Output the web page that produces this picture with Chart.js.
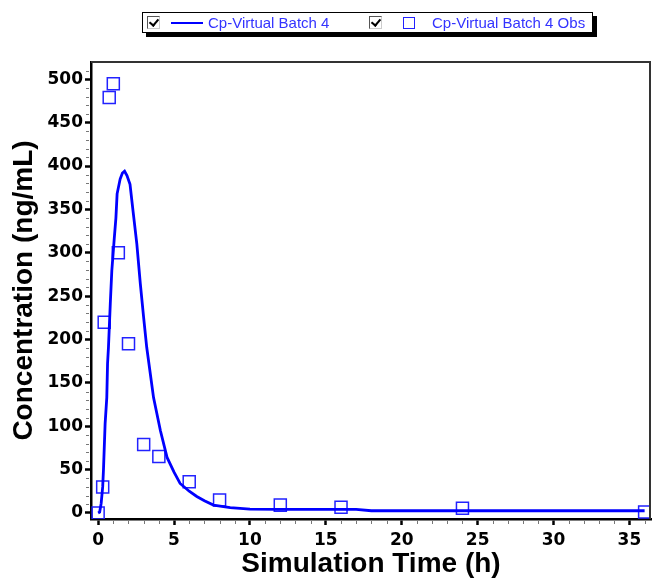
<!DOCTYPE html>
<html>
<head>
<meta charset="utf-8">
<script src="https://cdn.jsdelivr.net/npm/chart.js@4.4.0/dist/chart.umd.min.js"></script>
<style>
  html, body { margin: 0; padding: 0; background: #fff; }
  #wrap { position: relative; width: 652px; height: 578px; }
  #legend {
    position: absolute; left: 142px; top: 12px; width: 449px; height: 19px;
    border: 1px solid #000; background: #fff; box-shadow: 4px 4px 0 #000;
    font-family: "Liberation Sans", Arial, sans-serif; font-size: 15px; color: #3333ff;
  }
  #legend .cb {
    position: absolute; top: 3px; width: 13px; height: 13px; box-sizing: border-box;
    border: 1px solid #555; border-right-color: #ccc; border-bottom-color: #ccc; background: #fff;
  }
  #legend .cb::after {
    content: ""; position: absolute; left: 3px; top: 0px; width: 4px; height: 7px;
    border-right: 2px solid #000; border-bottom: 2px solid #000; transform: rotate(40deg);
  }
  #legend .ln { position: absolute; left: 28px; top: 9px; width: 32px; height: 2px; background: #0000ff; }
  #legend .sq { position: absolute; left: 260px; top: 4px; width: 12px; height: 12px; box-sizing: border-box; border: 1.5px solid #2222ff; }
  #legend .tx { position: absolute; top: 0; line-height: 19px; white-space: nowrap; }
</style>
</head>
<body>
<div id="wrap">
  <canvas id="graph" width="652" height="578"></canvas>
  <div id="legend">
    <span class="cb" style="left:4px"></span>
    <span class="ln"></span>
    <span class="tx" style="left:65px">Cp-Virtual Batch 4</span>
    <span class="cb" style="left:226px"></span>
    <span class="sq"></span>
    <span class="tx" style="left:289px">Cp-Virtual Batch 4 Obs</span>
  </div>
</div>
<script>
'use strict';

// simulated profile (h, ng/mL)
var simTime = [0, 0.1, 0.2, 0.3, 0.35, 0.46, 0.57, 0.62, 0.68, 0.8, 0.9, 1.06, 1.17, 1.25, 1.45, 1.6, 1.74, 1.9,
  2.1, 2.3, 2.55, 2.78, 3.0, 3.2, 3.65, 4.1, 4.54, 5.0, 5.4, 6.0, 6.5, 7.0, 7.6, 8.7, 10, 12, 17, 18, 24, 36];
var simConc = [0, 1, 11, 30, 49, 103, 133, 172, 191, 241, 279, 316, 340, 368, 385, 392, 394, 389,
  379, 348, 310, 264, 225, 191, 133, 95, 64, 47, 34, 25, 19, 14, 9, 6, 4.5, 4, 4, 2.5, 2.5, 2.5];

// observed
var obsTime = [0, 0.3, 0.4, 0.73, 1, 1.33, 2, 3, 4, 6, 8, 12, 16, 24, 36];
var obsConc = [0, 30, 220, 479, 495, 300, 195, 79, 65, 36, 15, 9, 6.5, 5.5, 1.2];

var xTicks = [0, 5, 10, 15, 20, 25, 30, 35];
var yTicks = [0, 50, 100, 150, 200, 250, 300, 350, 400, 450, 500];

var blue = '#0000ff';
var obsBlue = '#2222ff';

function pairs(xs, ys) {
  return xs.map(function(x, i) { return { x: x, y: ys[i] }; });
}

// frame on top/right + short minor ticks
var framePlugin = {
  id: 'frame',
  afterDraw: function(chart) {
    var ctx = chart.ctx;
    var a = chart.chartArea;
    var xs = chart.scales.x, ys = chart.scales.y;
    ctx.save();
    ctx.strokeStyle = '#333';
    ctx.lineWidth = 2;
    ctx.beginPath();
    ctx.moveTo(a.left, a.top);
    ctx.lineTo(a.right - 1, a.top);
    ctx.lineTo(a.right - 1, a.bottom);
    ctx.stroke();

    ctx.strokeStyle = '#777';
    ctx.lineWidth = 1;
    ctx.beginPath();
    for (let v = 10; v <= 510; v += 10) {
      if (v % 50 === 0) continue;
      let py = Math.round(ys.getPixelForValue(v)) + 0.5;
      ctx.moveTo(a.left - 2, py);
      ctx.lineTo(a.left - 5, py);
    }
    for (let v = 1; v <= 36; v++) {
      if (v % 5 === 0) continue;
      let px = Math.round(xs.getPixelForValue(v)) + 0.5;
      ctx.moveTo(px, a.bottom + 2);
      ctx.lineTo(px, a.bottom + 5);
    }
    ctx.stroke();
    ctx.restore();
  }
};

var tickFont = { family: 'DejaVu Sans', weight: 'bold', size: 17 };
var titleFont = { family: 'Liberation Sans', weight: 'bold', size: 28 };

var ctx = document.getElementById('graph').getContext('2d');
var myChart = new Chart(ctx, {
  type: 'scatter',
  data: {
    datasets: [
      {
        label: 'Cp-Virtual Batch 4',
        data: pairs(simTime, simConc),
        showLine: true,
        borderColor: blue,
        borderWidth: 2.8,
        pointRadius: 0,
        tension: 0,
        fill: false
      },
      {
        label: 'Cp-Virtual Batch 4 Obs',
        data: pairs(obsTime, obsConc),
        showLine: false,
        pointStyle: 'rect',
        pointRadius: 8.5,
        pointBorderWidth: 1.5,
        pointBorderColor: obsBlue,
        pointBackgroundColor: 'rgba(0,0,0,0)'
      }
    ]
  },
  options: {
    responsive: false,
    animation: false,
    devicePixelRatio: 1,
    layout: { autoPadding: false, padding: { top: 62, right: 1, left: 0, bottom: 0 } },
    plugins: {
      legend: { display: false },
      tooltip: { enabled: false }
    },
    scales: {
      x: {
        type: 'linear',
        min: -0.47,
        max: 36.42,
        afterFit: function(s) { s.height = 59; },
        afterBuildTicks: function(s) { s.ticks = xTicks.map(function(v) { return { value: v }; }); },
        grid: { drawOnChartArea: false, tickLength: 6, tickWidth: 2.5, tickColor: '#000' },
        border: { color: '#000', width: 2.5 },
        ticks: { color: '#000', font: tickFont, padding: 5, maxRotation: 0, autoSkip: false },
        title: { display: true, text: 'Simulation Time (h)', color: '#000', font: titleFont, padding: { top: 0, bottom: -3 } }
      },
      y: {
        type: 'linear',
        min: -7,
        max: 520,
        afterFit: function(s) { s.width = 91; },
        afterBuildTicks: function(s) { s.ticks = yTicks.map(function(v) { return { value: v }; }); },
        grid: { drawOnChartArea: false, tickLength: 6, tickWidth: 2.5, tickColor: '#000' },
        border: { color: '#000', width: 2.5 },
        ticks: { color: '#000', font: tickFont, padding: 2, autoSkip: false },
        title: { display: true, text: 'Concentration (ng/mL)', color: '#000', font: titleFont, padding: { top: 7, bottom: 0 } }
      }
    }
  },
  plugins: [framePlugin]
});
</script>
</body>
</html>
